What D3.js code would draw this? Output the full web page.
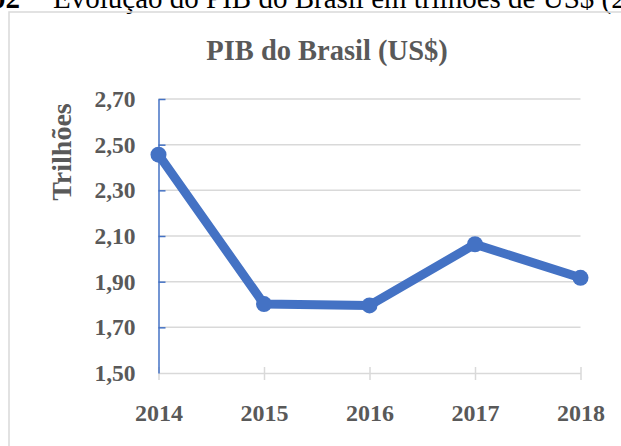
<html>
<head>
<meta charset="UTF-8" />
<style>
	body { margin: 0; background: #fff; }
	svg { display: block; }
</style>
</head>
<body>
<script src="https://d3js.org/d3.v7.min.js" charset="utf-8"></script>
<script>
var width = 621;
var height = 446;

// dados do grafico
var anos = ["2014", "2015", "2016", "2017", "2018"];
var pib = [2.456, 1.802, 1.796, 2.064, 1.917];
var yTicks = [1.5, 1.7, 1.9, 2.1, 2.3, 2.5, 2.7];

var serif = "'Liberation Serif', 'Times New Roman', serif";
var azul = "#4472c4";
var cinza = "#d9d9d9";
var texto = "#595959";

var svg = d3.select("body")
			.append("svg")
			.attr("width", width)
			.attr("height", height);

// legenda da figura (cortada no topo, como na imagem)
svg.append("text")
   .attr("x", 20)
   .attr("y", 8)
   .attr("text-anchor", "end")
   .attr("font-family", serif)
   .attr("font-size", 29)
   .attr("font-weight", "bold")
   .attr("fill", "#000")
   .text("Gráfico 02");

svg.append("text")
   .attr("x", 53)
   .attr("y", 8)
   .attr("font-family", serif)
   .attr("font-size", 29)
   .attr("fill", "#000")
   .text("Evolução do PIB do Brasil em trilhões de US$ (2014-2018)");

// moldura do grafico
svg.append("rect")
   .attr("x", 9)
   .attr("y", 12)
   .attr("width", 640)
   .attr("height", 460)
   .attr("fill", "none")
   .attr("stroke", cinza)
   .attr("stroke-width", 1.5);

var x = d3.scalePoint()
		  .domain(anos)
		  .range([158.5, 580.5]);

var y = d3.scaleLinear()
		  .domain([1.5, 2.7])
		  .range([373, 99]);

var fmt = function(d){ return d3.format(".2f")(d).replace(".", ","); };

// linhas de grade
svg.append("g")
   .selectAll("line")
   .data(yTicks.slice(1))
   .enter()
   .append("line")
   .attr("x1", x.range()[0])
   .attr("x2", x.range()[1])
   .attr("y1", d => y(d))
   .attr("y2", d => y(d))
   .attr("stroke", cinza)
   .attr("stroke-width", 1.5);

// eixo x
var xAxis = svg.append("g")
			   .attr("transform", "translate(0," + y(1.5) + ")")
			   .call(d3.axisBottom(x).tickSize(7).tickSizeOuter(0).tickPadding(24));

xAxis.select(".domain")
	 .attr("stroke", cinza)
	 .attr("stroke-width", 1.5);

xAxis.selectAll(".tick line")
	 .attr("y1", -6)
	 .attr("stroke", cinza)
	 .attr("stroke-width", 1.5);

xAxis.selectAll(".tick text")
	 .attr("font-family", serif)
	 .attr("font-size", 24)
	 .attr("font-weight", "bold")
	 .attr("fill", texto);

// eixo y
var yAxis = svg.append("g")
			   .attr("transform", "translate(" + x.range()[0] + ",0)")
			   .call(d3.axisLeft(y).tickValues(yTicks).tickFormat(fmt).tickSize(7).tickSizeOuter(0).tickPadding(16));

yAxis.select(".domain")
	 .attr("stroke", azul)
	 .attr("stroke-width", 1.5);

yAxis.selectAll(".tick line")
	 .attr("x2", d => d === 1.5 ? 0 : 7)
	 .attr("stroke", azul)
	 .attr("stroke-width", 1.5);

yAxis.selectAll(".tick text")
	 .attr("font-family", serif)
	 .attr("font-size", 23.5)
	 .attr("font-weight", "bold")
	 .attr("fill", texto);

// titulo
svg.append("text")
   .attr("x", 327)
   .attr("y", 60)
   .attr("text-anchor", "middle")
   .attr("font-family", serif)
   .attr("font-size", 28.5)
   .attr("font-weight", "bold")
   .attr("fill", texto)
   .text("PIB do Brasil (US$)");

// titulo do eixo y
svg.append("text")
   .attr("transform", "translate(71,152) rotate(-90)")
   .attr("text-anchor", "middle")
   .attr("font-family", serif)
   .attr("font-size", 28)
   .attr("font-weight", "bold")
   .attr("fill", texto)
   .text("Trilhões");

// serie
var linha = d3.line()
			  .x((d, i) => x(anos[i]))
			  .y(d => y(d));

svg.append("path")
   .datum(pib)
   .attr("d", linha)
   .attr("fill", "none")
   .attr("stroke", azul)
   .attr("stroke-width", 9)
   .attr("stroke-linejoin", "round");

svg.append("g")
   .selectAll("circle")
   .data(pib)
   .enter()
   .append("circle")
   .attr("cx", (d, i) => x(anos[i]))
   .attr("cy", d => y(d))
   .attr("r", 8)
   .attr("fill", azul);
</script>
</body>
</html>
